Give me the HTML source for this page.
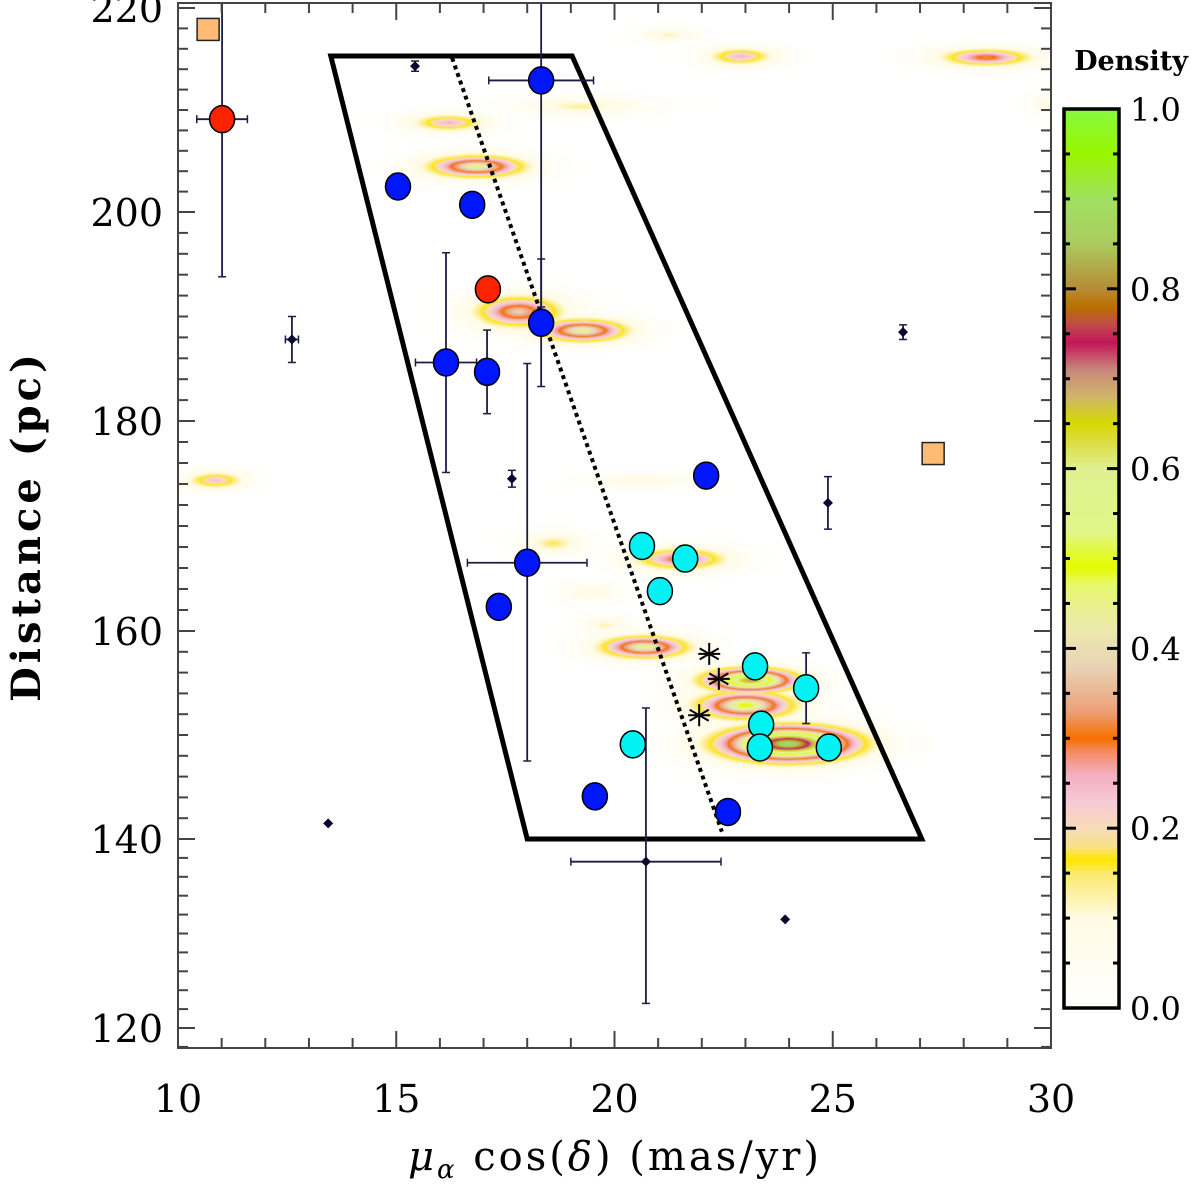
<!DOCTYPE html>
<html><head><meta charset="utf-8"><style>
body{margin:0;background:#fff;}
svg text{font-family:"DejaVu Serif","Liberation Serif",serif;fill:#000;}
</style></head><body>
<svg id="chart" width="1200" height="1182" viewBox="0 0 1200 1182" xmlns="http://www.w3.org/2000/svg">
<foreignObject x="178" y="3" width="873" height="1045"><canvas id="cv" width="873" height="1045" xmlns="http://www.w3.org/1999/xhtml" style="display:block"></canvas></foreignObject>
<g id="marks"></g>
<g id="axes"></g>
<g id="cbar"></g>
</svg>
<script>
// ---- data ----
const xTicks=[10,15,20,25,30];
const yTicks=[120,140,160,180,200,220];
const cbTicks=[0.0,0.2,0.4,0.6,0.8,1.0];
const blueX=[18.32,18.32,15.04,16.74,16.14,17.08,18.0,17.35,22.1,19.55,22.6];
const blueY=[212.9,189.4,202.5,200.7,185.6,184.7,166.5,162.3,174.8,144.1,142.6];
const blueXErr=[1.2,0,0,0,0.7,0,1.37,0,0,0,0];
const blueYErr=[22,6.1,0,0,10.5,4,19,0,0,0,0];
const redX=[11.01,17.10];
const redY=[209.1,192.6];
const redXErr=[0.58,0];
const redYErr=[15.3,0];
const orangeX=[10.69,27.30];
const orangeY=[217.9,176.9];
const cyanX=[20.63,21.62,21.04,23.22,24.39,23.36,23.33,24.91,20.42];
const cyanY=[168.1,166.9,163.8,156.6,154.5,151.0,148.8,148.8,149.1];
const cyanYErr=[0,0,0,0,3.4,0,0,0,0];
const starX=[22.17,22.39,21.94];
const starY=[157.8,155.4,151.9];
const diaX=[15.43,12.61,17.65,13.44,26.61,24.89,20.72,23.91];
const diaY=[214.3,187.8,174.5,141.5,188.5,172.2,137.6,131.5];
const diaXErr=[0,0.15,0,0,0,0,1.72,0];
const diaYErr=[0.5,2.2,0.8,0,0.7,2.5,15,0];
const trapX=[13.5,19.03,27.04,18.0];
const trapY=[215.3,215.3,140,140];
const dotX=[16.28,22.46];
const dotY=[215.1,140.7];
const blobX=[16.19,16.83,17.79,19.26,10.85,22.88,28.51,21.23,19.21,29.93,18.59,21.5,19.44,20.58,19.78,20.68,23.1,22.99,23.97];
const blobY=[208.8,204.5,190.5,188.7,174.4,215.3,215.2,217.4,210.4,210.7,168.4,166.9,163.7,174.4,160.6,158.5,155.3,152.9,149.2];
const blobSX=[0.41,0.5,0.46,0.46,0.32,0.37,0.5,0.32,0.69,0.23,0.34,0.5,0.34,0.57,0.27,0.46,0.46,0.5,0.64];
const blobSY=[0.4,0.48,0.67,0.48,0.38,0.4,0.4,0.3,0.4,0.4,0.48,0.48,0.4,0.3,0.4,0.48,0.48,0.58,0.67];
const blobPeak=[0.25,0.45,0.38,0.45,0.24,0.25,0.32,0.12,0.13,0.1,0.15,0.32,0.1,0.1,0.12,0.45,0.7,0.5,0.9];

// ---- scales ----
const X0=178,PX=43.65;
function sx(v){return X0+(v-10)*PX;}
const yKv=[220,200,180,160,140,120], yKp=[8,212,421,631,839,1028];
function sy(v){
  let i=0; if(v<=yKv[4]) i=4; else if(v<=yKv[3]) i=3; else if(v<=yKv[2]) i=2; else if(v<=yKv[1]) i=1; else i=0;
  const t=(v-yKv[i])/(yKv[i+1]-yKv[i]); return yKp[i]+t*(yKp[i+1]-yKp[i]);
}
function dy(v){return Math.abs(sy(v+0.5)-sy(v-0.5));}
const CB0=1008,CB1=109;
function scb(v){return CB0+(CB1-CB0)*v;}

const NS='http://www.w3.org/2000/svg';
function mk(tag,attrs,parent){const e=document.createElementNS(NS,tag);for(const k in attrs)e.setAttribute(k,attrs[k]);parent.appendChild(e);return e;}

// ---- colormap ----
const stops=[[0,'#ffffff'],[0.1,'#fffbe4'],[0.15,'#fbe96a'],[0.165,'#ffe600'],[0.18,'#f9e08a'],[0.2,'#f8dcb8'],[0.23,'#f7c9d6'],[0.26,'#f3aebf'],[0.285,'#f58a60'],[0.3,'#f77000'],[0.33,'#eca07a'],[0.38,'#e9d3b5'],[0.42,'#ece9ad'],[0.47,'#e8f870'],[0.49,'#e3fb00'],[0.53,'#e2f68a'],[0.6,'#dff090'],[0.63,'#dcdc40'],[0.65,'#d6d800'],[0.68,'#cfb56a'],[0.71,'#c8877a'],[0.74,'#c21659'],[0.76,'#c04a48'],[0.78,'#ba7000'],[0.8,'#b78c36'],[0.85,'#accb5f'],[0.9,'#a0e060'],[0.95,'#99f500'],[1.0,'#86fa40']];
function hex(c){return [parseInt(c.substr(1,2),16),parseInt(c.substr(3,2),16),parseInt(c.substr(5,2),16)];}
const LUT=[];
for(let i=0;i<=255;i++){const v=i/255;let j=0;while(j<stops.length-2&&stops[j+1][0]<v)j++;
 const a=stops[j],b=stops[j+1];const t=Math.max(0,Math.min(1,(v-a[0])/(b[0]-a[0])));const ca=hex(a[1]),cb=hex(b[1]);
 LUT.push([0,1,2].map(k=>Math.round(ca[k]+(cb[k]-ca[k])*t)));}

// ---- density canvas ----
(function(){
 const cv=document.getElementById('cv');const ctx=cv.getContext('2d');
 const W=cv.width,H=cv.height;const img=ctx.createImageData(W,H);const d=new Float32Array(W*H);
 for(let b=0;b<blobX.length;b++){
  const cx=sx(blobX[b])-X0, cy=sy(blobY[b])-3, sgx=1.3*blobSX[b]*PX, sgy=1.35*blobSY[b]*dy(blobY[b]), pk=blobPeak[b];
  const x0=Math.max(0,Math.floor(cx-4*sgx)),x1=Math.min(W-1,Math.ceil(cx+4*sgx));
  const y0=Math.max(0,Math.floor(cy-4*sgy)),y1=Math.min(H-1,Math.ceil(cy+4*sgy));
  for(let y=y0;y<=y1;y++)for(let x=x0;x<=x1;x++){const u=(x-cx)/sgx,w=(y-cy)/sgy;const v=pk*Math.exp(-0.5*Math.pow(u*u+w*w,0.8));const k=y*W+x;if(v>d[k])d[k]=v;}
 }
 for(let k=0;k<W*H;k++){const c=LUT[Math.min(255,Math.round(d[k]*255))];img.data[4*k]=c[0];img.data[4*k+1]=c[1];img.data[4*k+2]=c[2];img.data[4*k+3]=255;}
 ctx.putImageData(img,0,0);
})();

const marks=document.getElementById('marks');
const trap=mk('polygon',{points:trapX.map((v,i)=>sx(v)+','+sy(trapY[i])).join(' '),fill:'none',stroke:'#000','stroke-width':5,'stroke-linejoin':'miter'},marks);


const dl=mk('line',{x1:sx(dotX[0]),y1:sy(dotY[0]),x2:sx(dotX[1]),y2:sy(dotY[1]),stroke:'#000','stroke-width':4,'stroke-dasharray':'4 4'},marks);



const EC='#1c1c44';
function errbars(x,y,ex,ey,g){
 if(ex>0){mk('line',{x1:sx(x-ex),y1:sy(y),x2:sx(x+ex),y2:sy(y),stroke:EC,'stroke-width':1.8},g);
  [x-ex,x+ex].forEach(v=>mk('line',{x1:sx(v),y1:sy(y)-4,x2:sx(v),y2:sy(y)+4,stroke:EC,'stroke-width':1.5},g));}
 if(ey>0){mk('line',{x1:sx(x),y1:sy(y+ey),x2:sx(x),y2:sy(y-ey),stroke:EC,'stroke-width':1.8},g);
  [y-ey,y+ey].forEach(v=>mk('line',{x1:sx(x)-4,y1:sy(v),x2:sx(x)+4,y2:sy(v),stroke:EC,'stroke-width':1.5},g));}
}
const defs=mk('defs',{},marks);const cp=mk('clipPath',{id:'pc'},defs);mk('rect',{x:178,y:3,width:873,height:1045},cp);
const eg=mk('g',{'clip-path':'url(#pc)'},marks);


diaX.forEach((v,i)=>errbars(v,diaY[i],diaXErr[i],diaYErr[i],eg));
redX.forEach((v,i)=>errbars(v,redY[i],redXErr[i],redYErr[i],eg));
blueX.forEach((v,i)=>errbars(v,blueY[i],blueXErr[i],blueYErr[i],eg));
cyanX.forEach((v,i)=>errbars(v,cyanY[i],0,cyanYErr[i],eg));

diaX.forEach((v,i)=>{const x=sx(v),y=sy(diaY[i]);
 const p=mk('polygon',{points:`${x},${y-5} ${x+5},${y} ${x},${y+5} ${x-5},${y}`,fill:'#0a0a30'},marks);
 
 });
function circ(x,y,fill,name){const c=mk('ellipse',{cx:sx(x),cy:sy(y),rx:12.5,ry:13.5,fill:fill,stroke:'#000','stroke-width':1.5},marks);
 
 }
redX.forEach((v,i)=>circ(v,redY[i],'#ff2200','red-point'));
blueX.forEach((v,i)=>circ(v,blueY[i],'#0016ff','blue-point'));
cyanX.forEach((v,i)=>circ(v,cyanY[i],'#00f2f2','cyan-point'));
orangeX.forEach((v,i)=>{const r=mk('rect',{x:sx(v)-11,y:sy(orangeY[i])-11,width:22,height:22,fill:'#ffba74',stroke:'#222','stroke-width':1.5},marks);
 
 });
starX.forEach((v,i)=>{const g=mk('g',{stroke:'#000','stroke-width':2},marks);
 
 
 const x=sx(v),y=sy(starY[i]);
 for(let a=0;a<3;a++){const t=a*Math.PI/3+Math.PI/2;mk('line',{x1:x-11*Math.cos(t),y1:y-11*Math.sin(t),x2:x+11*Math.cos(t),y2:y+11*Math.sin(t)},g);}
 mk('line',{x1:x-11,y1:y,x2:x+11,y2:y},g);});

// ---- axes ----
const ax=document.getElementById('axes');
const frame=mk('rect',{x:178,y:3,width:873,height:1045,fill:'none',stroke:'#444','stroke-width':2},ax);


for(let v=10;v<=30;v+=1){const x=sx(v),L=(v%5===0)?17:10;
 mk('line',{x1:x,y1:1048,x2:x,y2:1048-L,stroke:'#444','stroke-width':2},ax);
 mk('line',{x1:x,y1:3,x2:x,y2:3+L,stroke:'#444','stroke-width':2},ax);}
for(let v=118;v<=220;v+=2){const y=sy(v),L=(v%20===0)?17:10;
 mk('line',{x1:178,y1:y,x2:178+L,y2:y,stroke:'#444','stroke-width':2},ax);
 mk('line',{x1:1051,y1:y,x2:1051-L,y2:y,stroke:'#444','stroke-width':2},ax);}
xTicks.forEach(v=>{const t=mk('text',{x:sx(v),y:1112,'font-size':38,'text-anchor':'middle'},ax);t.textContent=v;
 
 });
yTicks.forEach(v=>{const t=mk('text',{x:163,y:sy(v)+14,'font-size':38,'text-anchor':'end'},ax);t.textContent=v;
 
 });
const xt=mk('text',{x:615,y:1170,'font-size':40,'text-anchor':'middle','letter-spacing':3},ax);
xt.innerHTML='<tspan font-style="italic">μ</tspan><tspan font-style="italic" font-size="26" dy="8">α</tspan><tspan dy="-8"> cos(</tspan><tspan font-style="italic">δ</tspan><tspan>) (mas/yr)</tspan>';


const yt=mk('text',{x:0,y:0,'font-size':40,'font-weight':'bold','text-anchor':'middle','letter-spacing':4,transform:'translate(40,526) rotate(-90)'},ax);
yt.textContent='Distance (pc)';



// ---- colorbar ----
const cb=document.getElementById('cbar');
const gd=mk('linearGradient',{id:'cbg',x1:0,y1:1,x2:0,y2:0},defs);
stops.forEach(s=>mk('stop',{offset:s[0],'stop-color':s[1]},gd));
const cbr=mk('rect',{x:1064,y:CB1,width:55,height:CB0-CB1,fill:'url(#cbg)',stroke:'#000','stroke-width':3.5},cb);


for(let k=1;k<20;k++){const v=k*0.05,y=scb(v),L=(k%4===0)?12:6;
 mk('line',{x1:1064,y1:y,x2:1064+L,y2:y,stroke:'#000','stroke-width':3},cb);
 mk('line',{x1:1119,y1:y,x2:1119-L,y2:y,stroke:'#000','stroke-width':3},cb);}
cbTicks.forEach(v=>{const t=mk('text',{x:1130,y:scb(v)+12,'font-size':32},cb);t.textContent=v.toFixed(1);
 
 });
const dt=mk('text',{x:1131,y:70,'font-size':27,'font-weight':'bold','text-anchor':'middle'},cb);
dt.textContent='Density';


</script>
</body></html>
